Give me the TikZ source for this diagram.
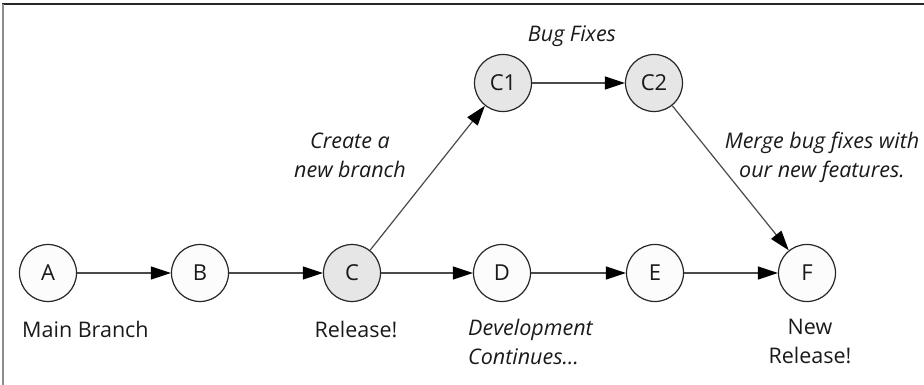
\documentclass[tikz,border=0pt]{standalone}
\usepackage{fontspec}
\setmainfont{Open Sans}
\usetikzlibrary{arrows.meta}
\definecolor{cfill}{HTML}{E6E6E6}
\definecolor{wfill}{HTML}{FCFCFC}
\definecolor{lgray}{HTML}{4A4A4A}
\definecolor{txt}{HTML}{1A1A1A}
\tikzset{
  commit/.style={circle,draw=black!85,line width=1.2pt,minimum size=57pt,inner sep=0pt,fill=wfill,text=txt,font=\fontsize{22}{24}\selectfont},
  hot/.style={commit,fill=cfill},
  link/.style={draw=lgray,line width=1.2pt,-{Triangle[length=20pt,width=13pt,black]}},
  lab/.style={font=\fontsize{21.5}{29}\selectfont,text=txt,align=center,inner sep=0pt},
  ilab/.style={font=\fontsize{21.5}{29}\selectfont\itshape,text=txt,align=center,inner sep=0pt}
}
\begin{document}
\begin{tikzpicture}[x=1pt,y=-1pt]
\useasboundingbox (0,0) rectangle (924,385);
\draw[draw=black!85,line width=2pt] (2,4.5) -- (924,4.5);
\draw[draw=black!45,line width=2pt] (3,4) -- (3,385);
\node[commit] (A) at (48,273) {A};
\node[commit] (B) at (200,273) {B};
\node[hot] (C) at (352,273) {C};
\node[commit] (D) at (502,273) {D};
\node[commit] (E) at (655,273) {E};
\node[commit] (F) at (807,273) {F};
\node[hot] (C1) at (503,83) {C1};
\node[hot] (C2) at (654,83) {C2};
\draw[link] (A) -- (B);
\draw[link] (B) -- (C);
\draw[link] (C) -- (D);
\draw[link] (D) -- (E);
\draw[link] (E) -- (F);
\draw[link] (C) -- (C1);
\draw[link] (C1) -- (C2);
\draw[link] (C2) -- (F);
\node[lab,anchor=west] (lmain) at (22,329) {Main Branch};
\node[lab] (lrel) at (356,329) {Release!};
\node[ilab,align=left,anchor=north west] (ldev) at (468,319) {Development\\Continues\ldots};
\node[lab,anchor=north] (lnew) at (810,319) {New\\Release!};
\node[ilab] (lbug) at (572,36) {Bug Fixes};
\node[ilab,anchor=north] (lcre) at (350,133) {Create a\\new branch};
\node[ilab,anchor=north] (lmer) at (822,132) {Merge bug fixes with\\our new features.};
\end{tikzpicture}
\end{document}
